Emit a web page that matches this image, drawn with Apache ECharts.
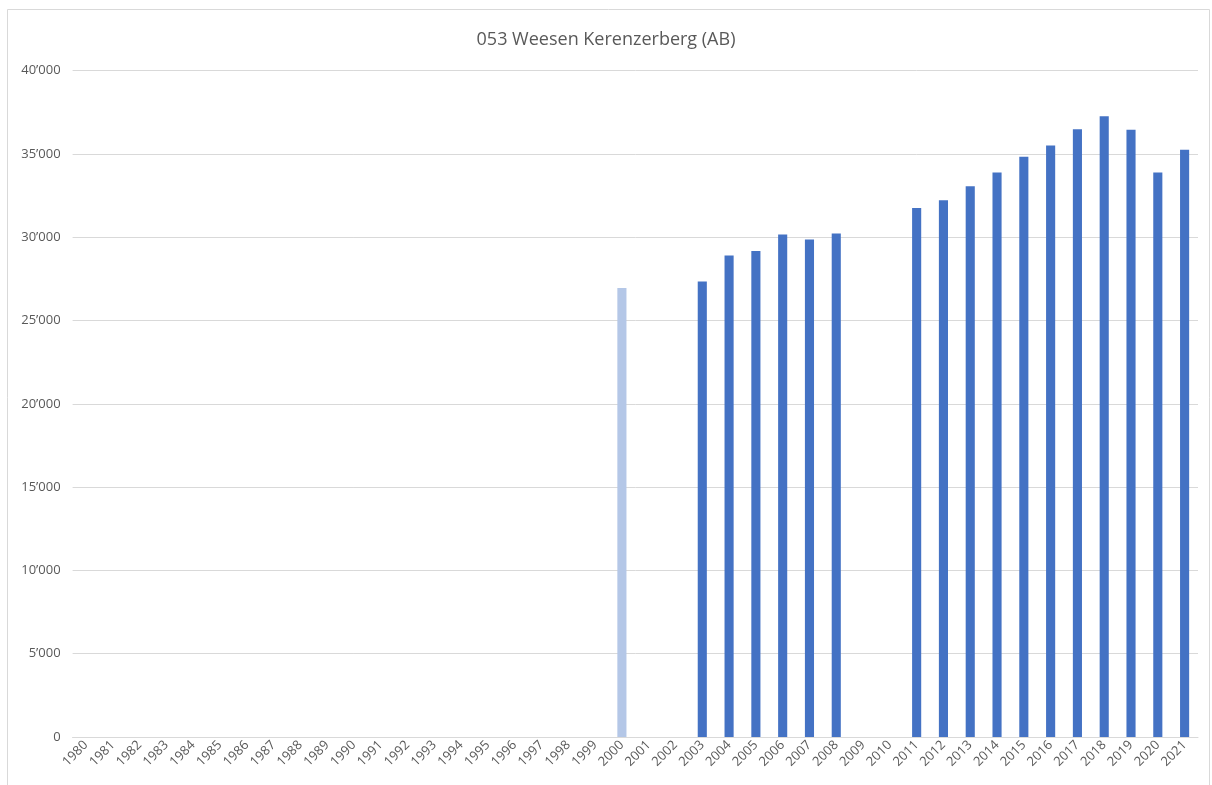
<!DOCTYPE html>
<html>
<head>
<meta charset="utf-8">
<style>
  html, body { margin: 0; padding: 0; background: #ffffff; }
  #chart { width: 1212px; height: 785px; }
</style>
<script src="https://cdn.jsdelivr.net/npm/echarts@6/dist/echarts.min.js"></script>
</head>
<body>
<div id="chart"></div>
<script>
// Annual traffic counts, station 053 Weesen Kerenzerberg
const years = [];
for (let y = 1980; y <= 2021; y++) years.push(String(y));

// null = no count for that year
const counts = [
  null, null, null, null, null, null, null, null, null, null, // 1980-1989
  null, null, null, null, null, null, null, null, null, null, // 1990-1999
  26950, null, null, 27350, 28900, 29170, 30170, 29860, 30220, null, // 2000-2009
  null, 31750, 32230, 33070, 33890, 34830, 35510, 36490, 37270, 36450, // 2010-2019
  33890, 35250 // 2020-2021
];
// years shown in the lighter shade (partial / estimated count)
const lightYears = ['2000'];

const yTicks = { min: 0, max: 40000, interval: 5000 };

const darkBlue = '#4472C4';
const lightBlue = '#B4C7E7';
const textGrey = '#595959';
const lineGrey = '#D9D9D9';
const fontFamily = 'Open Sans, Lato, sans-serif';

function fmtThousands(v) {
  return String(v).replace(/\B(?=(\d{3})+(?!\d))/g, '\u2019');
}

const chart = echarts.init(document.getElementById('chart'), null, { renderer: 'canvas' });

chart.setOption({
  backgroundColor: '#ffffff',
  animation: false,
  graphic: [{
    type: 'rect',
    shape: { x: 7.5, y: 9.5, width: 1202, height: 790 },
    style: { fill: 'none', stroke: lineGrey, lineWidth: 1 },
    silent: true
  }],
  title: {
    text: '053 Weesen Kerenzerberg (AB)',
    left: 'center',
    top: 26,
    textStyle: { color: textGrey, fontSize: 18, fontWeight: 'normal', fontFamily: fontFamily }
  },
  grid: { left: 72.6, right: 14, top: 70.7, bottom: 48 },
  xAxis: {
    type: 'category',
    data: years,
    axisLine: { show: true, lineStyle: { color: lineGrey, width: 1 } },
    axisTick: { show: false },
    axisLabel: {
      rotate: 45,
      interval: 0,
      color: textGrey,
      fontSize: 13,
      fontFamily: fontFamily,
      margin: 6
    }
  },
  yAxis: {
    type: 'value',
    min: yTicks.min,
    max: yTicks.max,
    interval: yTicks.interval,
    axisLine: { show: false },
    axisTick: { show: false },
    splitLine: { lineStyle: { color: lineGrey, width: 1 } },
    axisLabel: {
      color: textGrey,
      fontSize: 13,
      fontFamily: fontFamily,
      margin: 12,
      formatter: fmtThousands
    }
  },
  series: [{
    type: 'bar',
    barWidth: '34%',
    data: counts.map((v, i) => ({
      value: v,
      itemStyle: { color: lightYears.includes(years[i]) ? lightBlue : darkBlue }
    }))
  }]
});
</script>
</body>
</html>
